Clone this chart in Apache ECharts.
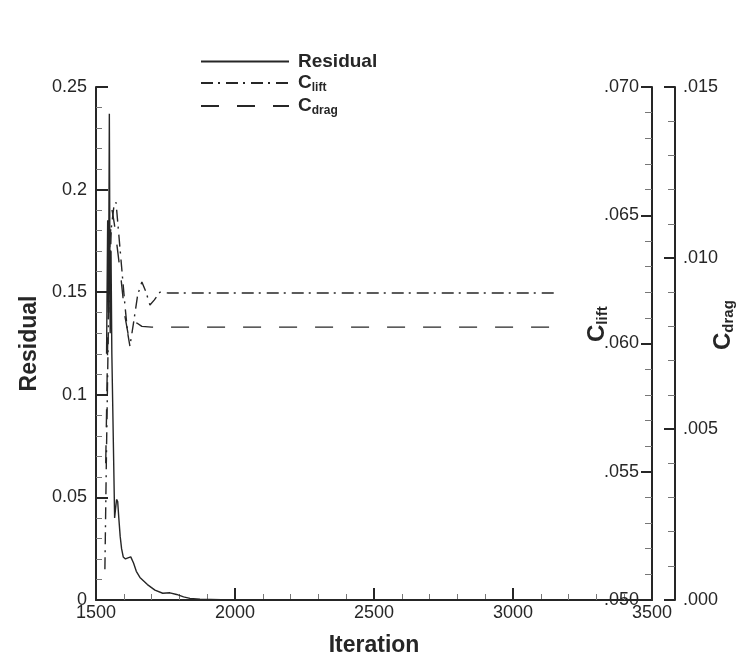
<!DOCTYPE html>
<html>
<head>
<meta charset="utf-8">
<script src="https://cdn.jsdelivr.net/npm/echarts@6/dist/echarts.min.js"></script>
<style>
  html, body { margin: 0; padding: 0; background: #fff; }
  #chart { width: 745px; height: 666px; }
</style>
</head>
<body>
<div id="chart"></div>
<script>
// values
const residualIter = [1538, 1542, 1545, 1548, 1551, 1554, 1557, 1562, 1567, 1570, 1574, 1578, 1582, 1587, 1592, 1598, 1606, 1615, 1625, 1635, 1645, 1658, 1685, 1712, 1740, 1766, 1790, 1815, 1838, 1874, 1950, 2100, 3160];
const residualVal = [0.12, 0.185, 0.14, 0.237, 0.13, 0.17, 0.12, 0.08, 0.04, 0.044, 0.049, 0.048, 0.04, 0.031, 0.025, 0.021, 0.02, 0.0205, 0.021, 0.018, 0.014, 0.011, 0.0075, 0.0048, 0.0033, 0.0035, 0.0027, 0.0015, 0.0008, 0.0004, 0.0002, 0.0001, 0.0001];

const liftIter = [1532, 1538, 1545, 1555, 1565, 1572, 1580, 1592, 1604, 1614, 1622, 1635, 1650, 1665, 1680, 1694, 1710, 1730, 1760, 3160];
const liftVal = [0.0512, 0.056, 0.061, 0.0645, 0.0654, 0.0655, 0.0645, 0.063, 0.0615, 0.0604, 0.0599, 0.0608, 0.0619, 0.0624, 0.062, 0.0615, 0.0617, 0.062, 0.06197, 0.06197];

const dragIter = [1535, 1542, 1550, 1558, 1566, 1575, 1590, 1604, 1615, 1622, 1632, 1647, 1665, 1700, 3160];
const dragVal = [0.004, 0.0075, 0.0105, 0.0114, 0.011, 0.0104, 0.0094, 0.0083, 0.0078, 0.0077, 0.0079, 0.0081, 0.008, 0.00798, 0.00798];

const xTicks = [1500, 2000, 2500, 3000, 3500];
const resTicks = [0, 0.05, 0.1, 0.15, 0.2, 0.25];
const liftTicks = [0.05, 0.055, 0.06, 0.065, 0.07];
const dragTicks = [0, 0.005, 0.01, 0.015];

const font = "Liberation Sans";
const ink = "#262626";

const zip = (xs, ys) => xs.map((x, i) => [x, ys[i]]);
const noLead = (v) => v.toFixed(3).replace(/^0/, "");

const subRich = {
  b: { fontFamily: font, fontSize: 19, fontWeight: "bold", color: ink, lineHeight: 24 },
  c: { fontFamily: font, fontSize: 19, fontWeight: "bold", color: ink, lineHeight: 24 },
  s: { fontFamily: font, fontSize: 12, fontWeight: "bold", color: ink, lineHeight: 24, padding: [10, 0, 0, 0] },
};
const bigRich = {
  c: { fontFamily: font, fontSize: 24, fontWeight: "bold", color: ink, lineHeight: 30 },
  s: { fontFamily: font, fontSize: 15, fontWeight: "bold", color: ink, lineHeight: 30, padding: [12, 0, 0, 0] },
};

const chart = echarts.init(document.getElementById("chart"));

chart.setOption({
  backgroundColor: "#fff",
  animation: false,
  color: [ink, ink, ink],
  grid: { left: 96, right: 93, top: 87, bottom: 66 },
  legend: {
    orient: "vertical",
    left: 195,
    top: 47,
    itemWidth: 88,
    itemHeight: 14,
    itemGap: 1,
    itemStyle: { opacity: 0 },
    data: ["Residual", "C_lift", "C_drag"],
    formatter: (name) => {
      if (name === "Residual") return "{b|Residual}";
      const p = name.split("_");
      return "{c|" + p[0] + "}{s|" + p[1] + "}";
    },
    textStyle: { rich: subRich, padding: [0, 0, 0, 4] },
  },
  xAxis: {
    type: "value",
    min: 1500,
    max: 3500,
    interval: 500,
    name: "Iteration",
    nameLocation: "middle",
    nameGap: 34,
    nameTextStyle: { fontFamily: font, fontSize: 23, fontWeight: "bold", color: ink },
    axisLine: { lineStyle: { color: ink, width: 2 } },
    axisTick: { inside: true, length: 12, lineStyle: { color: ink, width: 2 } },
    minorTick: { show: true, splitNumber: 5, length: 6, lineStyle: { color: "#777", width: 1 } },
    splitLine: { show: false },
    axisLabel: {
      margin: 4,
      fontFamily: font,
      fontSize: 18,
      color: ink,
      formatter: (v) => (xTicks.includes(v) ? String(v) : ""),
    },
  },
  yAxis: [
    {
      type: "value",
      min: 0,
      max: 0.25,
      interval: 0.05,
      name: "Residual",
      nameLocation: "middle",
      nameRotate: 90,
      nameGap: 41,
      nameTextStyle: { fontFamily: font, fontSize: 23, fontWeight: "bold", color: ink },
      axisLine: { show: true, lineStyle: { color: ink, width: 2 } },
      axisTick: { show: true, inside: true, length: 12, lineStyle: { color: ink, width: 2 } },
      minorTick: { show: true, splitNumber: 5, length: 6, lineStyle: { color: "#777", width: 1 } },
      splitLine: { show: false },
      axisLabel: {
        margin: 9,
        fontFamily: font,
        fontSize: 18,
        color: ink,
        formatter: (v) => {
          const t = resTicks.find((r) => Math.abs(r - v) < 1e-9);
          return t === undefined ? "" : String(+t.toFixed(2));
        },
      },
    },
    {
      type: "value",
      position: "right",
      min: 0.05,
      max: 0.07,
      interval: 0.005,
      axisLine: { show: true, lineStyle: { color: ink, width: 2 } },
      axisTick: { show: true, inside: true, length: 11, lineStyle: { color: ink, width: 2 } },
      minorTick: { show: true, splitNumber: 5, length: 7, lineStyle: { color: "#777", width: 1 } },
      splitLine: { show: false },
      axisLabel: {
        inside: true,
        margin: 13,
        fontFamily: font,
        fontSize: 18,
        color: ink,
        formatter: (v) => (liftTicks.some((r) => Math.abs(r - v) < 1e-9) ? noLead(v) : ""),
      },
    },
    {
      type: "value",
      position: "right",
      offset: 23,
      min: 0,
      max: 0.015,
      interval: 0.005,
      axisLine: { show: true, lineStyle: { color: ink, width: 2 } },
      axisTick: { show: true, inside: true, length: 11, lineStyle: { color: ink, width: 2 } },
      minorTick: { show: true, splitNumber: 5, length: 7, lineStyle: { color: "#777", width: 1 } },
      splitLine: { show: false },
      axisLabel: {
        margin: 8,
        fontFamily: font,
        fontSize: 18,
        color: ink,
        formatter: (v) => (dragTicks.some((r) => Math.abs(r - v) < 1e-9) ? noLead(v) : ""),
      },
    },
  ],
  graphic: [
    {
      type: "text",
      x: 582,
      y: 342,
      rotation: Math.PI / 2,
      style: { text: "{c|C}{s|lift}", rich: bigRich, fill: ink },
    },
    {
      type: "text",
      x: 708,
      y: 350,
      rotation: Math.PI / 2,
      style: { text: "{c|C}{s|drag}", rich: bigRich, fill: ink },
    },
  ],
  series: [
    {
      name: "Residual",
      type: "line",
      yAxisIndex: 0,
      data: zip(residualIter, residualVal),
      showSymbol: false,
      symbol: "none",
      itemStyle: { color: ink },
      lineStyle: { color: ink, width: 1.4 },
    },
    {
      name: "C_lift",
      type: "line",
      yAxisIndex: 1,
      data: zip(liftIter, liftVal),
      showSymbol: false,
      symbol: "none",
      itemStyle: { color: ink },
      lineStyle: { color: ink, width: 1.4, type: [12, 5, 2, 6] },
    },
    {
      name: "C_drag",
      type: "line",
      yAxisIndex: 2,
      data: zip(dragIter, dragVal),
      showSymbol: false,
      symbol: "none",
      itemStyle: { color: ink },
      lineStyle: { color: ink, width: 1.4, type: [18, 18] },
    },
  ],
});
</script>
</body>
</html>
